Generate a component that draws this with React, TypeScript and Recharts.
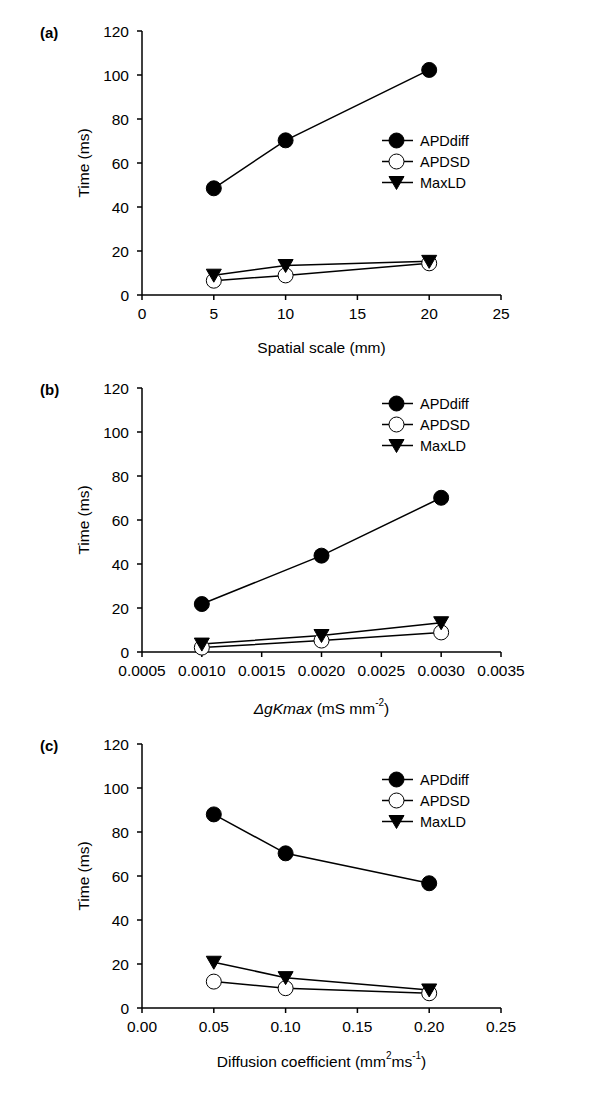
import { LineChart, Line, XAxis, YAxis } from 'recharts';

// panel (a) spatial scale
const scaleX = [5, 10, 20];
const scaleDiff = [48.5, 70.3, 102.3];
const scaleSD = [6.5, 8.9, 14.4];
const scaleMax = [9.0, 13.4, 15.3];
const scaleTicks = [0, 5, 10, 15, 20, 25];

// panel (b) gKmax
const gkX = [0.001, 0.002, 0.003];
const gkDiff = [21.8, 43.8, 70.1];
const gkSD = [2.0, 5.2, 8.9];
const gkMax = [3.6, 7.5, 13.3];
const gkTicks = [0.0005, 0.001, 0.0015, 0.002, 0.0025, 0.003, 0.0035];

// panel (c) diffusion
const difX = [0.05, 0.1, 0.2];
const difDiff = [88.0, 70.3, 56.7];
const difSD = [12.0, 9.0, 6.7];
const difMax = [20.8, 13.8, 8.2];
const difTicks = [0, 0.05, 0.1, 0.15, 0.2, 0.25];

const timeTicks = [0, 20, 40, 60, 80, 100, 120];
const seriesNames = ['APDdiff', 'APDSD', 'MaxLD'];

const FONT = 'Arial, "Liberation Sans", sans-serif';
const FS = 15.5;
const PLOT_H = 264;

const build = (xs: number[], a: number[], b: number[], c: number[]) =>
  xs.map((x, i) => ({ x, APDdiff: a[i], APDSD: b[i], MaxLD: c[i] }));

const Marker = ({ kind, cx, cy }: { kind: string; cx: number; cy: number }) => {
  if (kind === 'MaxLD') {
    return (
      <polygon
        points={`${cx - 7.5},${cy - 6} ${cx + 7.5},${cy - 6} ${cx},${cy + 7}`}
        fill="#000"
        stroke="#000"
        strokeWidth={1}
      />
    );
  }
  return (
    <circle
      cx={cx}
      cy={cy}
      r={7.5}
      fill={kind === 'APDdiff' ? '#000' : '#fff'}
      stroke="#000"
      strokeWidth={1}
    />
  );
};

const dotFor = (kind: string) => (props: any) =>
  <Marker key={`${kind}-${props.index}`} kind={kind} cx={props.cx} cy={props.cy} />;

const LegendBox = ({ top }: { top: number }) => (
  <div style={{ position: 'absolute', left: 382, top, fontFamily: FONT, fontSize: 14.5 }}>
    {seriesNames.map((n) => (
      <div key={n} style={{ display: 'flex', alignItems: 'center', height: 21 }}>
        <svg width={31} height={17} style={{ display: 'block' }}>
          <line x1={0} y1={8.5} x2={31} y2={8.5} stroke="#000" strokeWidth={1.5} />
          <Marker kind={n} cx={14.5} cy={8.5} />
        </svg>
        <span style={{ marginLeft: 7 }}>{n}</span>
      </div>
    ))}
  </div>
);

const YLabel = (props: any) => {
  const vb = props.viewBox;
  const cx = 83;
  const cy = vb.y + vb.height / 2;
  return (
    <text x={cx} y={cy} transform={`rotate(-90 ${cx} ${cy})`} textAnchor="middle"
      dominantBaseline="central" fontFamily={FONT} fontSize={FS} fill="#000">
      Time (ms)
    </text>
  );
};

const makeXLabel = (kind: string, dy: number) => (props: any) => {
  const vb = props.viewBox;
  const cx = vb.x + vb.width / 2;
  const cy = vb.y + dy;
  const common = { x: cx, y: cy, textAnchor: 'middle' as const, dominantBaseline: 'central' as const,
    fontFamily: FONT, fontSize: FS, fill: '#000' };
  if (kind === 'a') return <text {...common}>Spatial scale (mm)</text>;
  if (kind === 'b')
    return (
      <text {...common}>
        <tspan fontStyle="italic">ΔgKmax</tspan>
        <tspan> (mS mm</tspan>
        <tspan dy={-6} fontSize={10}>-2</tspan>
        <tspan dy={6}>)</tspan>
      </text>
    );
  return (
    <text {...common}>
      <tspan>Diffusion coefficient (mm</tspan>
      <tspan dy={-6} fontSize={10}>2</tspan>
      <tspan dy={6}>ms</tspan>
      <tspan dy={-6} fontSize={10}>-1</tspan>
      <tspan dy={6}>)</tspan>
    </text>
  );
};

type PanelProps = {
  tag: string;
  height: number;
  top: number;
  data: any[];
  ticks: number[];
  fmt: (v: number) => string;
  legendTop: number;
  labelDy: number;
};

const Panel = ({ tag, height, top, data, ticks, fmt, legendTop, labelDy }: PanelProps) => (
  <div style={{ position: 'relative', width: 600, height }}>
    <LineChart width={600} height={height} data={data}
      margin={{ top, right: 99, left: 82, bottom: height - top - PLOT_H - 30 }}>
      <XAxis dataKey="x" type="number" domain={[ticks[0], ticks[ticks.length - 1]]} ticks={ticks}
        tickFormatter={fmt} height={30} stroke="#000" strokeWidth={1.5} tickSize={5} tickMargin={8}
        tick={{ fill: '#000', fontSize: FS, fontFamily: FONT }} interval={0}
        label={makeXLabel(tag, labelDy)} />
      <YAxis type="number" domain={[0, 120]} ticks={timeTicks} width={60} stroke="#000"
        strokeWidth={1.5} tickSize={5} tickMargin={8} interval={0}
        tick={{ fill: '#000', fontSize: FS, fontFamily: FONT }} label={YLabel} />
      {seriesNames.map((n) => (
        <Line key={n} dataKey={n} stroke="#000" strokeWidth={1.5} dot={dotFor(n)}
          isAnimationActive={false} type="linear" />
      ))}
    </LineChart>
    <div style={{ position: 'absolute', left: 40, top: top - 7, fontFamily: FONT, fontSize: 15,
      fontWeight: 'bold' }}>({tag})</div>
    <LegendBox top={legendTop} />
  </div>
);

export default function App() {
  return (
    <div style={{ position: 'absolute', left: 0, top: 0, width: 600, height: 1102, background: '#fff' }}>
      <Panel tag="a" height={357} top={31} data={build(scaleX, scaleDiff, scaleSD, scaleMax)}
        ticks={scaleTicks} fmt={(v) => String(v)} legendTop={130} labelDy={52} />
      <Panel tag="b" height={370} top={31} data={build(gkX, gkDiff, gkSD, gkMax)} ticks={gkTicks}
        fmt={(v) => v.toFixed(4)} legendTop={36} labelDy={56} />
      <Panel tag="c" height={375} top={17} data={build(difX, difDiff, difSD, difMax)}
        ticks={difTicks} fmt={(v) => v.toFixed(2)} legendTop={42} labelDy={53} />
    </div>
  );
}
